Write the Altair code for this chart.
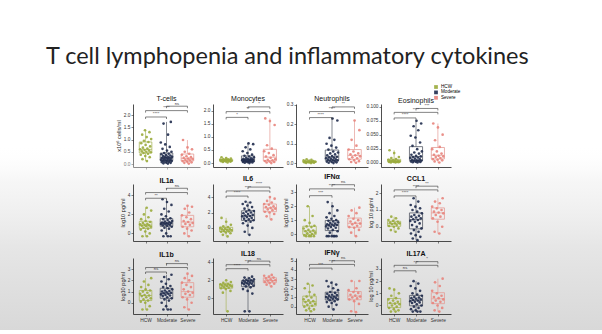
import altair as alt
import pandas as pd

MAIN_TITLE = "T cell lymphopenia and inflammatory cytokines"
GROUPS = ["HCW", "Moderate", "Severe"]
BOX_KEYS = ["HCW box", "Moderate box", "Severe box"]
POINT_COLORS = ["#9aab3c", "#1f2b4d", "#e8847c"]
BOX_COLORS = ["#a9b65e", "#555a66", "#e59c96"]

PANEL_TITLES = ["T-cells", "Monocytes", "Neutrophils", "Eosinophils",
                "IL1a", "IL6", "IFNα", "CCL1",
                "IL1b", "IL18", "IFNγ", "IL17A"]
Y_TITLES = ["x10⁶ cells/ml", "", "", "",
            "log10 pg/ml", "", "log10 pg/ml", "log 10 pg/ml",
            "log10 pg/ml", "", "log10 pg/ml", "log 10 pg/ml"]
Y_TICKS = [[0, 0.5, 1, 1.5, 2], [0, 0.5, 1, 1.5, 2], [0, 0.1, 0.2, 0.3], [0, 0.025, 0.05, 0.075, 0.1],
           [0, 2, 4], [0, 2, 4], [0, 1, 2, 3], [0, 1, 2],
           [0, 1, 2, 3], [0, 2, 4], [0, 1, 2, 3, 4, 5], [0, 1, 2, 3]]
Y_FORMATS = [".1f", ".1f", ".1f", ".3f", "d", "d", "d", "d", "d", "d", "d", "d"]
Y_DOMAINS = [[-0.12, 2.45], [-0.15, 2.25], [-0.02, 0.305], [-0.008, 0.105],
             [-0.8, 5.2], [-1.7, 5.7], [-0.5, 3.6], [-0.85, 2.55],
             [-1.0, 4.0], [-1.8, 4.5], [-0.8, 5.3], [-0.7, 3.9]]
# significance brackets: HCW-Moderate, HCW-Severe, Moderate-Severe
SIG_LABELS = [["****", "****", "ns"], ["*", "**", "*"], ["****", "****", "**"], ["****", "****", "***"],
              ["**", "*", "ns"], ["****", "****", "****"], ["***", "****", "ns"], ["****", "****", "**"],
              ["ns", "*", "ns"], ["****", "****", "ns"], ["***", "****", "ns"], ["ns", "***", "*"]]
SIG_LEVELS = [[1.92, 2.18, 2.36], [1.74, 1.96, 2.14], [0.235, 0.266, 0.29], [0.08, 0.09, 0.097],
              [3.7, 4.3, 4.75], [4.13, 4.8, 5.3], [2.76, 3.25, 3.55], [1.84, 2.2, 2.42],
              [2.75, 3.15, 3.5], [3.3, 3.75, 4.15], [4.2, 4.6, 5.0], [2.85, 3.3, 3.6]]

TCELL_HCW = [0.12, 0.2, 0.28, 0.33, 0.38, 0.42, 0.45, 0.48, 0.5, 0.52, 0.55, 0.57, 0.6, 0.63, 0.67, 0.72, 0.78, 0.85, 0.9, 0.95, 1.02, 1.1, 1.2, 1.3, 1.38]
TCELL_MOD = [0.02, 0.03, 0.05, 0.06, 0.08, 0.09, 0.1, 0.12, 0.13, 0.14, 0.15, 0.17, 0.18, 0.2, 0.21, 0.22, 0.24, 0.25, 0.26, 0.28, 0.3, 0.31, 0.33, 0.35, 0.37, 0.4, 0.42, 0.45, 0.5, 0.55, 0.62, 0.7, 0.8, 0.88, 1.2, 1.65, 1.72]
TCELL_SEV = [0.02, 0.05, 0.07, 0.1, 0.12, 0.15, 0.17, 0.2, 0.22, 0.25, 0.28, 0.32, 0.38, 0.42, 0.5, 0.6, 0.68, 0.98]

MONO_HCW = [0.02, 0.04, 0.05, 0.06, 0.07, 0.08, 0.08, 0.09, 0.1, 0.1, 0.11, 0.12, 0.13, 0.14, 0.15, 0.17, 0.19, 0.22]
MONO_MOD = [0.0, 0.01, 0.02, 0.03, 0.04, 0.05, 0.06, 0.07, 0.08, 0.09, 0.1, 0.1, 0.11, 0.12, 0.13, 0.14, 0.15, 0.16, 0.18, 0.2, 0.22, 0.25, 0.28, 0.32, 0.38, 0.45, 0.52, 0.6, 0.72, 0.75]
MONO_SEV = [0.0, 0.02, 0.04, 0.06, 0.08, 0.1, 0.12, 0.15, 0.2, 0.25, 0.3, 0.38, 0.45, 0.55, 0.68, 1.45, 1.6, 1.7]

NEUT_HCW = [0.0, 0.001, 0.002, 0.003, 0.004, 0.005, 0.006, 0.007, 0.008, 0.009, 0.01, 0.012, 0.014, 0.017, 0.02]
NEUT_MOD = [0.0, 0.002, 0.004, 0.006, 0.008, 0.01, 0.012, 0.014, 0.016, 0.018, 0.02, 0.022, 0.025, 0.028, 0.03, 0.033, 0.036, 0.04, 0.045, 0.05, 0.055, 0.06, 0.07, 0.08, 0.09, 0.1, 0.12, 0.13, 0.22, 0.23]
NEUT_SEV = [0.002, 0.006, 0.01, 0.015, 0.02, 0.025, 0.03, 0.035, 0.04, 0.045, 0.05, 0.06, 0.07, 0.09, 0.12, 0.17, 0.22]

EOS_HCW = [0.0, 0.0, 0.0005, 0.001, 0.001, 0.0015, 0.002, 0.002, 0.0025, 0.003, 0.003, 0.004, 0.005, 0.006, 0.008, 0.01, 0.017, 0.022]
EOS_MOD = [0.0, 0.0005, 0.001, 0.0015, 0.002, 0.0025, 0.003, 0.0035, 0.004, 0.005, 0.006, 0.007, 0.008, 0.009, 0.01, 0.011, 0.012, 0.014, 0.016, 0.018, 0.02, 0.024, 0.03, 0.036, 0.045, 0.048, 0.058, 0.065, 0.07, 0.075]
EOS_SEV = [0.0, 0.002, 0.004, 0.005, 0.006, 0.008, 0.01, 0.011, 0.012, 0.014, 0.016, 0.02, 0.024, 0.028, 0.04, 0.05, 0.063, 0.07]

IL1A_HCW = [-0.3, -0.3, 0.0, 0.2, 0.4, 0.5, 0.6, 0.7, 0.75, 0.8, 0.85, 0.9, 0.95, 1.0, 1.1, 1.2, 1.3, 1.5, 1.7, 2.0, 2.4, 2.7]
IL1A_MOD = [-0.3, -0.3, -0.3, 0.0, 0.3, 0.5, 0.6, 0.7, 0.8, 0.85, 0.9, 0.95, 1.0, 1.0, 1.05, 1.1, 1.1, 1.15, 1.2, 1.25, 1.3, 1.4, 1.5, 1.6, 1.8, 2.0, 2.3, 2.6, 3.0, 3.3, 3.6]
IL1A_SEV = [-0.3, 0.0, 0.3, 0.5, 0.7, 0.9, 1.0, 1.1, 1.2, 1.3, 1.5, 1.7, 1.9, 2.2, 2.6, 2.8, 2.9]

IL6_HCW = [-1.1, -0.9, -0.7, -0.6, -0.5, -0.45, -0.4, -0.3, -0.25, -0.2, -0.15, -0.1, 0.0, 0.1, 0.2, 0.4, 0.8, 1.3]
IL6_MOD = [-0.9, -0.5, 0.0, 0.3, 0.6, 0.8, 0.9, 1.0, 1.1, 1.2, 1.3, 1.4, 1.5, 1.55, 1.6, 1.7, 1.8, 1.9, 2.0, 2.1, 2.2, 2.3, 2.5, 2.7, 2.9, 3.1, 3.3, 3.4]
IL6_SEV = [1.1, 1.5, 1.8, 2.0, 2.1, 2.3, 2.4, 2.5, 2.6, 2.7, 2.8, 3.0, 3.1, 3.3, 3.5, 3.8, 4.0]

IFNA_HCW = [-0.15, -0.15, -0.15, -0.15, -0.1, 0.0, 0.05, 0.1, 0.15, 0.2, 0.25, 0.3, 0.4, 0.5, 0.55, 0.6, 0.8, 1.0, 1.3, 2.0]
IFNA_MOD = [-0.15, -0.15, -0.15, -0.15, -0.15, -0.15, 0.1, 0.2, 0.3, 0.4, 0.45, 0.5, 0.55, 0.6, 0.62, 0.65, 0.68, 0.7, 0.75, 0.8, 0.85, 0.9, 0.95, 1.0, 1.1, 1.2, 1.3, 1.5, 1.7, 2.0, 2.3]
IFNA_SEV = [-0.15, 0.1, 0.3, 0.45, 0.5, 0.6, 0.7, 0.75, 0.8, 0.9, 1.0, 1.1, 1.3, 1.5, 1.7, 1.9]

CCL1_HCW = [-0.3, -0.2, -0.1, 0.0, 0.05, 0.1, 0.15, 0.2, 0.2, 0.25, 0.3, 0.35, 0.4, 0.5, 0.6]
CCL1_MOD = [-0.8, -0.7, -0.6, -0.5, -0.4, -0.3, -0.2, -0.1, 0.0, 0.1, 0.2, 0.3, 0.35, 0.4, 0.45, 0.5, 0.55, 0.6, 0.65, 0.7, 0.8, 0.9, 1.0, 1.1, 1.2, 1.3, 1.5, 1.7]
CCL1_SEV = [-0.4, -0.3, 0.0, 0.3, 0.5, 0.6, 0.7, 0.8, 0.85, 0.9, 1.0, 1.1, 1.2, 1.4, 1.5, 1.7]

IL1B_HCW = [-0.6, -0.6, -0.3, 0.0, 0.1, 0.2, 0.3, 0.4, 0.5, 0.6, 0.65, 0.7, 0.8, 0.9, 1.0, 1.1, 1.2, 1.4, 1.6, 1.9, 2.2]
IL1B_MOD = [-0.6, -0.6, -0.6, -0.3, 0.0, 0.2, 0.3, 0.4, 0.5, 0.6, 0.65, 0.7, 0.75, 0.8, 0.85, 0.9, 0.95, 1.0, 1.05, 1.1, 1.2, 1.3, 1.4, 1.5, 1.7, 1.9, 2.1, 2.3, 2.5]
IL1B_SEV = [-0.6, -0.4, 0.0, 0.3, 0.5, 0.7, 0.8, 0.9, 1.0, 1.2, 1.4, 1.6, 1.8, 2.0, 2.2, 2.4, 2.6]

IL18_HCW = [-1.5, 0.6, 0.8, 1.0, 1.1, 1.15, 1.2, 1.3, 1.35, 1.4, 1.45, 1.5, 1.55, 1.6, 1.7, 1.8, 2.0]
IL18_MOD = [-1.5, -1.5, 0.5, 0.8, 1.0, 1.2, 1.3, 1.4, 1.5, 1.55, 1.6, 1.65, 1.7, 1.75, 1.8, 1.85, 1.9, 1.95, 2.0, 2.05, 2.1, 2.2, 2.3, 2.4]
IL18_SEV = [1.3, 1.5, 1.6, 1.7, 1.8, 1.9, 1.95, 2.0, 2.1, 2.2, 2.3, 2.4, 2.5, 2.6]

IFNG_HCW = [-0.5, -0.4, -0.3, -0.2, 0.0, 0.1, 0.2, 0.3, 0.4, 0.5, 0.6, 0.7, 0.8, 1.0, 1.1, 1.3, 1.6, 2.0, 2.3, 2.5]
IFNG_MOD = [-0.3, 0.0, 0.2, 0.4, 0.5, 0.6, 0.7, 0.8, 0.85, 0.9, 0.95, 1.0, 1.05, 1.1, 1.2, 1.25, 1.3, 1.4, 1.5, 1.6, 1.8, 2.0, 2.2, 2.4, 2.6, 2.8]
IFNG_SEV = [-0.6, -0.5, 0.3, 0.6, 0.8, 0.9, 1.0, 1.1, 1.2, 1.3, 1.5, 1.6, 1.8, 2.0, 2.8, 2.8]

IL17A_HCW = [-0.5, -0.5, -0.4, -0.3, -0.2, -0.1, 0.0, 0.1, 0.15, 0.2, 0.3, 0.4, 0.5, 0.6, 0.8, 1.0, 1.3, 1.4]
IL17A_MOD = [-0.5, -0.5, -0.5, -0.4, -0.3, -0.2, -0.1, 0.0, 0.1, 0.2, 0.25, 0.3, 0.35, 0.4, 0.45, 0.5, 0.55, 0.6, 0.65, 0.7, 0.8, 0.9, 1.0, 1.2, 1.4, 1.6, 1.8, 2.0]
IL17A_SEV = [-0.5, -0.4, -0.2, 0.0, 0.2, 0.3, 0.4, 0.5, 0.6, 0.7, 0.8, 1.0, 1.2, 1.6, 1.9, 2.2]

PANEL_DATA = [
    (TCELL_HCW, TCELL_MOD, TCELL_SEV), (MONO_HCW, MONO_MOD, MONO_SEV),
    (NEUT_HCW, NEUT_MOD, NEUT_SEV), (EOS_HCW, EOS_MOD, EOS_SEV),
    (IL1A_HCW, IL1A_MOD, IL1A_SEV), (IL6_HCW, IL6_MOD, IL6_SEV),
    (IFNA_HCW, IFNA_MOD, IFNA_SEV), (CCL1_HCW, CCL1_MOD, CCL1_SEV),
    (IL1B_HCW, IL1B_MOD, IL1B_SEV), (IL18_HCW, IL18_MOD, IL18_SEV),
    (IFNG_HCW, IFNG_MOD, IFNG_SEV), (IL17A_HCW, IL17A_MOD, IL17A_SEV),
]

WIDTHS = [67, 70, 72, 70]
HEIGHTS = [63, 57, 56]
FONT = "Liberation Sans"

SLIDE_SHADE = {
    "gradient": "linear", "x1": 0, "y1": 0, "x2": 0, "y2": 1,
    "stops": [
        {"offset": 0, "color": "rgba(255,255,255,0)"},
        {"offset": 0.2, "color": "rgba(240,240,240,0.6)"},
        {"offset": 0.55, "color": "#e6e6e6"},
        {"offset": 1, "color": "#d8d8d8"},
    ],
}


def make_panel(i):
    row, col = divmod(i, 4)
    w, h = WIDTHS[col], HEIGHTS[row]
    lo, hi = Y_DOMAINS[i]
    rows = []
    for gi, vals in enumerate(PANEL_DATA[i]):
        for v in vals:
            rows.append({"group": GROUPS[gi], "bkey": BOX_KEYS[gi], "gi": gi, "value": v})
    pts = pd.DataFrame(rows)

    xsc = alt.Scale(domain=[-0.6, 2.6], nice=False, zero=False)
    ysc = alt.Scale(domain=[lo, hi], nice=False, zero=False)
    xaxis = alt.Axis(values=[0, 1, 2], grid=False, title=None, tickSize=2,
                     labels=(row == 2), labelFontSize=4.8, labelPadding=1.5,
                     labelExpr="datum.value == 0 ? 'HCW' : datum.value == 1 ? 'Moderate' : 'Severe'")
    ytitle = Y_TITLES[i] if Y_TITLES[i] else None
    yaxis = alt.Axis(values=Y_TICKS[i], format=Y_FORMATS[i], title=ytitle, grid=False,
                     tickSize=2, labelFontSize=4.8, titleFontSize=5.6, titlePadding=2, labelPadding=1)
    color = alt.Color("group:N", scale=alt.Scale(domain=GROUPS, range=POINT_COLORS),
                      legend=alt.Legend(title=None, symbolType="square"))
    stroke = alt.Stroke("bkey:N", scale=alt.Scale(domain=BOX_KEYS, range=BOX_COLORS), legend=None)

    base = alt.Chart(pts)
    stats = base.transform_aggregate(
        q1="q1(value)", med="median(value)", q3="q3(value)", vmin="min(value)", vmax="max(value)",
        groupby=["bkey", "gi"],
    ).transform_calculate(bx1="datum.gi - 0.3", bx2="datum.gi + 0.3")

    whisk_lo = stats.mark_rule(strokeWidth=0.7).encode(
        x=alt.X("gi:Q", scale=xsc, axis=xaxis), y=alt.Y("vmin:Q", scale=ysc, axis=yaxis), y2="q1:Q", stroke=stroke)
    whisk_hi = stats.mark_rule(strokeWidth=0.7).encode(
        x=alt.X("gi:Q", scale=xsc, axis=xaxis), y=alt.Y("q3:Q", scale=ysc, axis=yaxis), y2="vmax:Q", stroke=stroke)
    box = stats.mark_rect(fillOpacity=0, strokeWidth=0.8).encode(
        x=alt.X("bx1:Q", scale=xsc, axis=xaxis), x2="bx2:Q",
        y=alt.Y("q1:Q", scale=ysc, axis=yaxis), y2="q3:Q", stroke=stroke)
    med = stats.mark_rule(strokeWidth=0.8).encode(
        x=alt.X("bx1:Q", scale=xsc, axis=xaxis), x2="bx2:Q",
        y=alt.Y("med:Q", scale=ysc, axis=yaxis), stroke=stroke)
    dots = base.transform_window(rn="row_number()", groupby=["group"]).transform_calculate(
        xj="datum.gi + ((datum.rn * 0.6180339887) % 1 - 0.5) * 0.56"
    ).mark_circle(size=7, opacity=0.9).encode(
        x=alt.X("xj:Q", scale=xsc, axis=xaxis), y=alt.Y("value:Q", scale=ysc, axis=yaxis), color=color)

    drop = (hi - lo) * 2.0 / h
    br = pd.DataFrame({"xa": [0, 0, 1], "xb": [1, 2, 2], "lvl": SIG_LEVELS[i], "lab": SIG_LABELS[i]})
    bbase = alt.Chart(br).transform_calculate(
        low=f"datum.lvl - {drop}", xm="(datum.xa + datum.xb) / 2")
    bline = bbase.mark_rule(strokeWidth=0.6, color="#333").encode(
        x=alt.X("xa:Q", scale=xsc, axis=xaxis), x2="xb:Q", y=alt.Y("lvl:Q", scale=ysc, axis=yaxis))
    bend_a = bbase.mark_rule(strokeWidth=0.6, color="#333").encode(
        x=alt.X("xa:Q", scale=xsc, axis=xaxis), y=alt.Y("lvl:Q", scale=ysc, axis=yaxis), y2="low:Q")
    bend_b = bbase.mark_rule(strokeWidth=0.6, color="#333").encode(
        x=alt.X("xb:Q", scale=xsc, axis=xaxis), y=alt.Y("lvl:Q", scale=ysc, axis=yaxis), y2="low:Q")
    btext = bbase.mark_text(fontSize=4.2, dy=-0.6, baseline="bottom", color="#333", font=FONT).encode(
        x=alt.X("xm:Q", scale=xsc, axis=xaxis), y=alt.Y("lvl:Q", scale=ysc, axis=yaxis), text="lab:N")

    layers = [whisk_lo, whisk_hi, box, med, dots, bline, bend_a, bend_b, btext]
    if i == 0:
        shade = alt.Chart(pd.DataFrame({"k": [0]})).mark_rect(fill=SLIDE_SHADE).encode(
            x=alt.value(-133), x2=alt.value(469), y=alt.value(40), y2=alt.value(226))
        layers = [shade] + layers

    return alt.layer(*layers).properties(
        width=w, height=h,
        title=alt.TitleParams(PANEL_TITLES[i], fontSize=7, font=FONT, frame="group",
                              fontWeight=("normal" if row == 0 else "bold"), offset=0, color="#111"),
    )


panels = [make_panel(i) for i in range(12)]

chart = alt.concat(
    *panels, columns=4, spacing={"row": 17, "column": 13}, align="each", bounds="flush"
).properties(
    title=alt.TitleParams(MAIN_TITLE, anchor="start", frame="bounds", dx=46, offset=16,
                          fontSize=23.5, font="Lato", fontWeight="normal", color="#222"),
    padding={"left": 0, "top": 44, "right": 0, "bottom": 0},
    background="white",
).configure_view(stroke=None).configure_axis(
    labelFont=FONT, titleFont=FONT, labelColor="#333", titleColor="#222", titleFontWeight="normal",
    domainColor="#222", domainWidth=0.8, tickColor="#333", tickWidth=0.6, zindex=1,
).configure_legend(
    orient="none", legendX=300, legendY=-20, labelFont=FONT, labelFontSize=4.6,
    symbolSize=14, rowPadding=0.4, labelOffset=2, padding=0,
)

chart.save("out.html", embed_options={"renderer": "svg", "actions": False})
